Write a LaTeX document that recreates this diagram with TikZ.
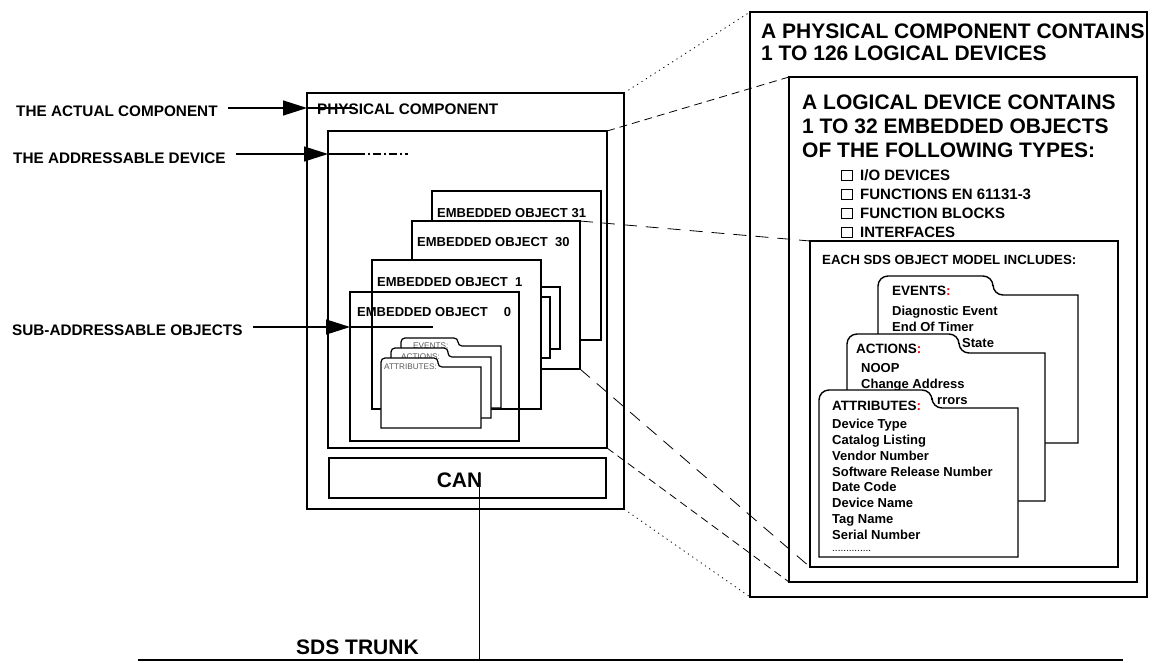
\documentclass[tikz,border=0pt]{standalone}
\usepackage{fontspec}
\setmainfont{Liberation Sans}
\usetikzlibrary{arrows.meta}

\tikzset{
  box/.style={draw, line width=1.4pt, fill=white, inner sep=0pt, outer sep=0pt, anchor=north west},
  folder/.style={draw, line width=1.4pt, fill=white},
  txt/.style={inner sep=0pt, anchor=base west, font={\bfseries\fontsize{#1}{#1}\selectfont}},
  tinytxt/.style={inner sep=0pt, anchor=base west, text=black!65, font={\fontsize{8.2}{8.2}\selectfont}},
  tickbox/.style={draw, line width=1pt, inner sep=0pt, minimum width=10.5pt, minimum height=10pt},
  pointer/.style={line width=1.3pt, -{Triangle[length=24pt,width=15pt]}, shorten <=10pt},
  wire/.style={line width=1.3pt},
  proj/.style={line width=0.8pt, dash pattern=on 8pt off 5pt},
  projlong/.style={line width=0.8pt, dash pattern=on 13pt off 9pt},
  projdot/.style={line width=0.8pt, dash pattern=on 1.2pt off 4pt},
}

\begin{document}
\begin{tikzpicture}[x=1pt,y=-1pt]
  \useasboundingbox (0,0) rectangle (1154,662);
  % the component, left
  \node[box, minimum width=317pt, minimum height=416pt] (pc) at (307,93) {};
  \node[txt=15.3] (pct) at (317,114) {PHYSICAL COMPONENT};
  \node[box, minimum width=279pt, minimum height=317pt] (ld) at (328,131) {};
  \node[box, minimum width=277pt, minimum height=40pt] (can) at (329,458) {};
  \node[txt=21, anchor=base] (cantxt) at (459.5,487.3) {CAN};
  \node[box, minimum width=169pt, minimum height=149pt] (eo31) at (432,191) {};
  \node[txt=13] (eo31t) at (437,217.3) {EMBEDDED OBJECT 31};
  \node[box, minimum width=168pt, minimum height=148pt] (eo30) at (412,221) {};
  \node[txt=13] (eo30t) at (417,246.7) {EMBEDDED OBJECT\ \ 30};
  \node[box, minimum width=168pt, minimum height=62pt] (eoa) at (392,287) {};
  \node[box, minimum width=168pt, minimum height=61pt] (eob) at (382,297) {};
  \node[box, minimum width=169pt, minimum height=149pt] (eo1) at (372,260) {};
  \node[txt=13] (eo1t) at (377,286.7) {EMBEDDED OBJECT\ \ 1};
  \node[box, fill=none, minimum width=169pt, minimum height=149pt] (eo0) at (350,292) {};
  \node[txt=13] (eo0t) at (357,316.7) {EMBEDDED OBJECT\hspace{16pt}0};
  % small folders
  \draw[folder, line width=1.2pt] (401,408) [rounded corners=4pt] -- (401,338) -- (458,338) -- (458,346) [sharp corners] -- (501,346) -- (501,408) -- cycle;
  \node[tinytxt] (sev) at (413,348) {EVENTS:};
  \draw[folder, line width=1.2pt] (391,418) [rounded corners=4pt] -- (391,348) -- (448,348) -- (448,357) [sharp corners] -- (491,357) -- (491,418) -- cycle;
  \node[tinytxt] (sac) at (401,359) {ACTIONS:};
  \draw[folder, line width=1.2pt] (381,428) [rounded corners=4pt] -- (381,358) -- (438,358) -- (438,367) [sharp corners] -- (481,367) -- (481,428) -- cycle;
  \node[tinytxt] (sat) at (384,369) {ATTRIBUTES:};

  % the component, opened out
  \node[box, minimum width=397pt, minimum height=585pt] (rpc) at (750,12) {};
  \foreach \t [count=\i] in {A PHYSICAL COMPONENT CONTAINS, 1 TO 126 LOGICAL DEVICES}
    \node[txt=21] (rpct\i) at (761,16+22.4*\i) {\t};
  \node[box, minimum width=348pt, minimum height=505pt] (rld) at (789,77) {};
  \foreach \t [count=\i] in {A LOGICAL DEVICE CONTAINS, 1 TO 32 EMBEDDED OBJECTS, OF THE FOLLOWING TYPES:}
    \node[txt=21] (rldt\i) at (802,85+24*\i) {\t};
  \foreach \t [count=\i] in {I/O DEVICES, FUNCTIONS EN 61131-3, FUNCTION BLOCKS, INTERFACES}{
    \node[tickbox] (cb\i) at (847,156+19.2*\i) {};
    \node[txt=15] (ty\i) at (860,160.8+19.2*\i) {\t};}
  \node[box, minimum width=308pt, minimum height=326pt] (som) at (810,241) {};
  \node[txt=13.3] (somt) at (822,264) {EACH SDS OBJECT MODEL INCLUDES:};
  % events
  \draw[folder] (878,443) [rounded corners=10pt] -- (878,276) -- (993,276) -- (993,295) [sharp corners] -- (1078,295) -- (1078,443) -- cycle;
  \node[txt=13.5] (evh) at (892,295.7) {EVENTS\textcolor{red}{:}};
  \foreach \t [count=\i] in {Diagnostic Event, End Of Timer}
    \node[txt=13] (ev\i) at (892,299+16*\i) {\t};
  \node[txt=13] (ev3) at (962,347.3) {State};
  % actions
  \draw[folder] (847,501) [rounded corners=10pt] -- (847,334) -- (959,334) -- (959,353) [sharp corners] -- (1045,353) -- (1045,501) -- cycle;
  \node[txt=13.5] (ach) at (856,353.3) {ACTIONS\textcolor{red}{:}};
  \foreach \t [count=\i] in {NOOP, Change Address}
    \node[txt=13] (ac\i) at (861,356.3+16*\i) {\t};
  \node[txt=13] (ac3) at (937,404) {rrors};
  % attributes
  \draw[folder] (819,557) [rounded corners=10pt] -- (819,390) -- (932,390) -- (932,408) [sharp corners] -- (1018,408) -- (1018,557) -- cycle;
  \node[txt=13.5] (ath) at (832,410.7) {ATTRIBUTES\textcolor{red}{:}};
  \foreach \t [count=\i] in {Device Type, Catalog Listing, Vendor Number, Software Release Number, Date Code, Device Name, Tag Name, Serial Number}
    \node[txt=13] (at\i) at (832,412.4+15.9*\i) {\t};
  \node[inner sep=0pt, anchor=base west, font=\fontsize{10}{10}\selectfont] (atdots) at (832,551.7) {..............};

  % labels on the left
  \node[txt=15.3] (lblA) at (16,116) {THE ACTUAL COMPONENT};
  \node[txt=15.3] (lblB) at (13,163.3) {THE ADDRESSABLE DEVICE};
  \node[txt=15.3] (lblC) at (12,335) {SUB-ADDRESSABLE OBJECTS};
  \coordinate (tipA) at (307,108); \coordinate (endA) at (355,108);
  \coordinate (tipB) at (328,154); \coordinate (endB) at (357,154); \coordinate (gapB) at (408,154);
  \coordinate (tipC) at (350,327); \coordinate (endC) at (433,327);
  \draw[pointer] (lblA.east |- tipA) -- (tipA);
  \draw[wire] (tipA) -- (endA);
  \draw[pointer] (lblB.east |- tipB) -- (tipB);
  \draw[wire] (tipB) -- (endB);
  \draw[wire, dash pattern=on 8pt off 3pt on 2pt off 3pt] (endB) -- (gapB);
  \draw[pointer] (lblC.east |- tipC) -- (tipC);
  \draw[wire] (tipC) -- (endC);

  % projections
  \draw[projdot] (pc.north east) -- (rpc.north west);
  \draw[projdot] (pc.south east) -- (rpc.south west);
  \draw[proj] (ld.north east) -- (rld.north west);
  \draw[proj] (ld.south east) -- (rld.south west);
  \draw[projlong] (eo30.north east) -- (som.north west);
  \draw[projlong] (eo30.south east) -- (som.south west);

  % trunk
  \node[txt=21] (trunk) at (296,654) {SDS TRUNK};
  \coordinate (trL) at (138,660); \coordinate (trR) at (1123,660); \coordinate (tap) at (479,660);
  \draw[wire] (trL) -- (trR);
  \draw[line width=1pt] (tap |- cantxt.north) -- (tap);
\end{tikzpicture}
\end{document}
